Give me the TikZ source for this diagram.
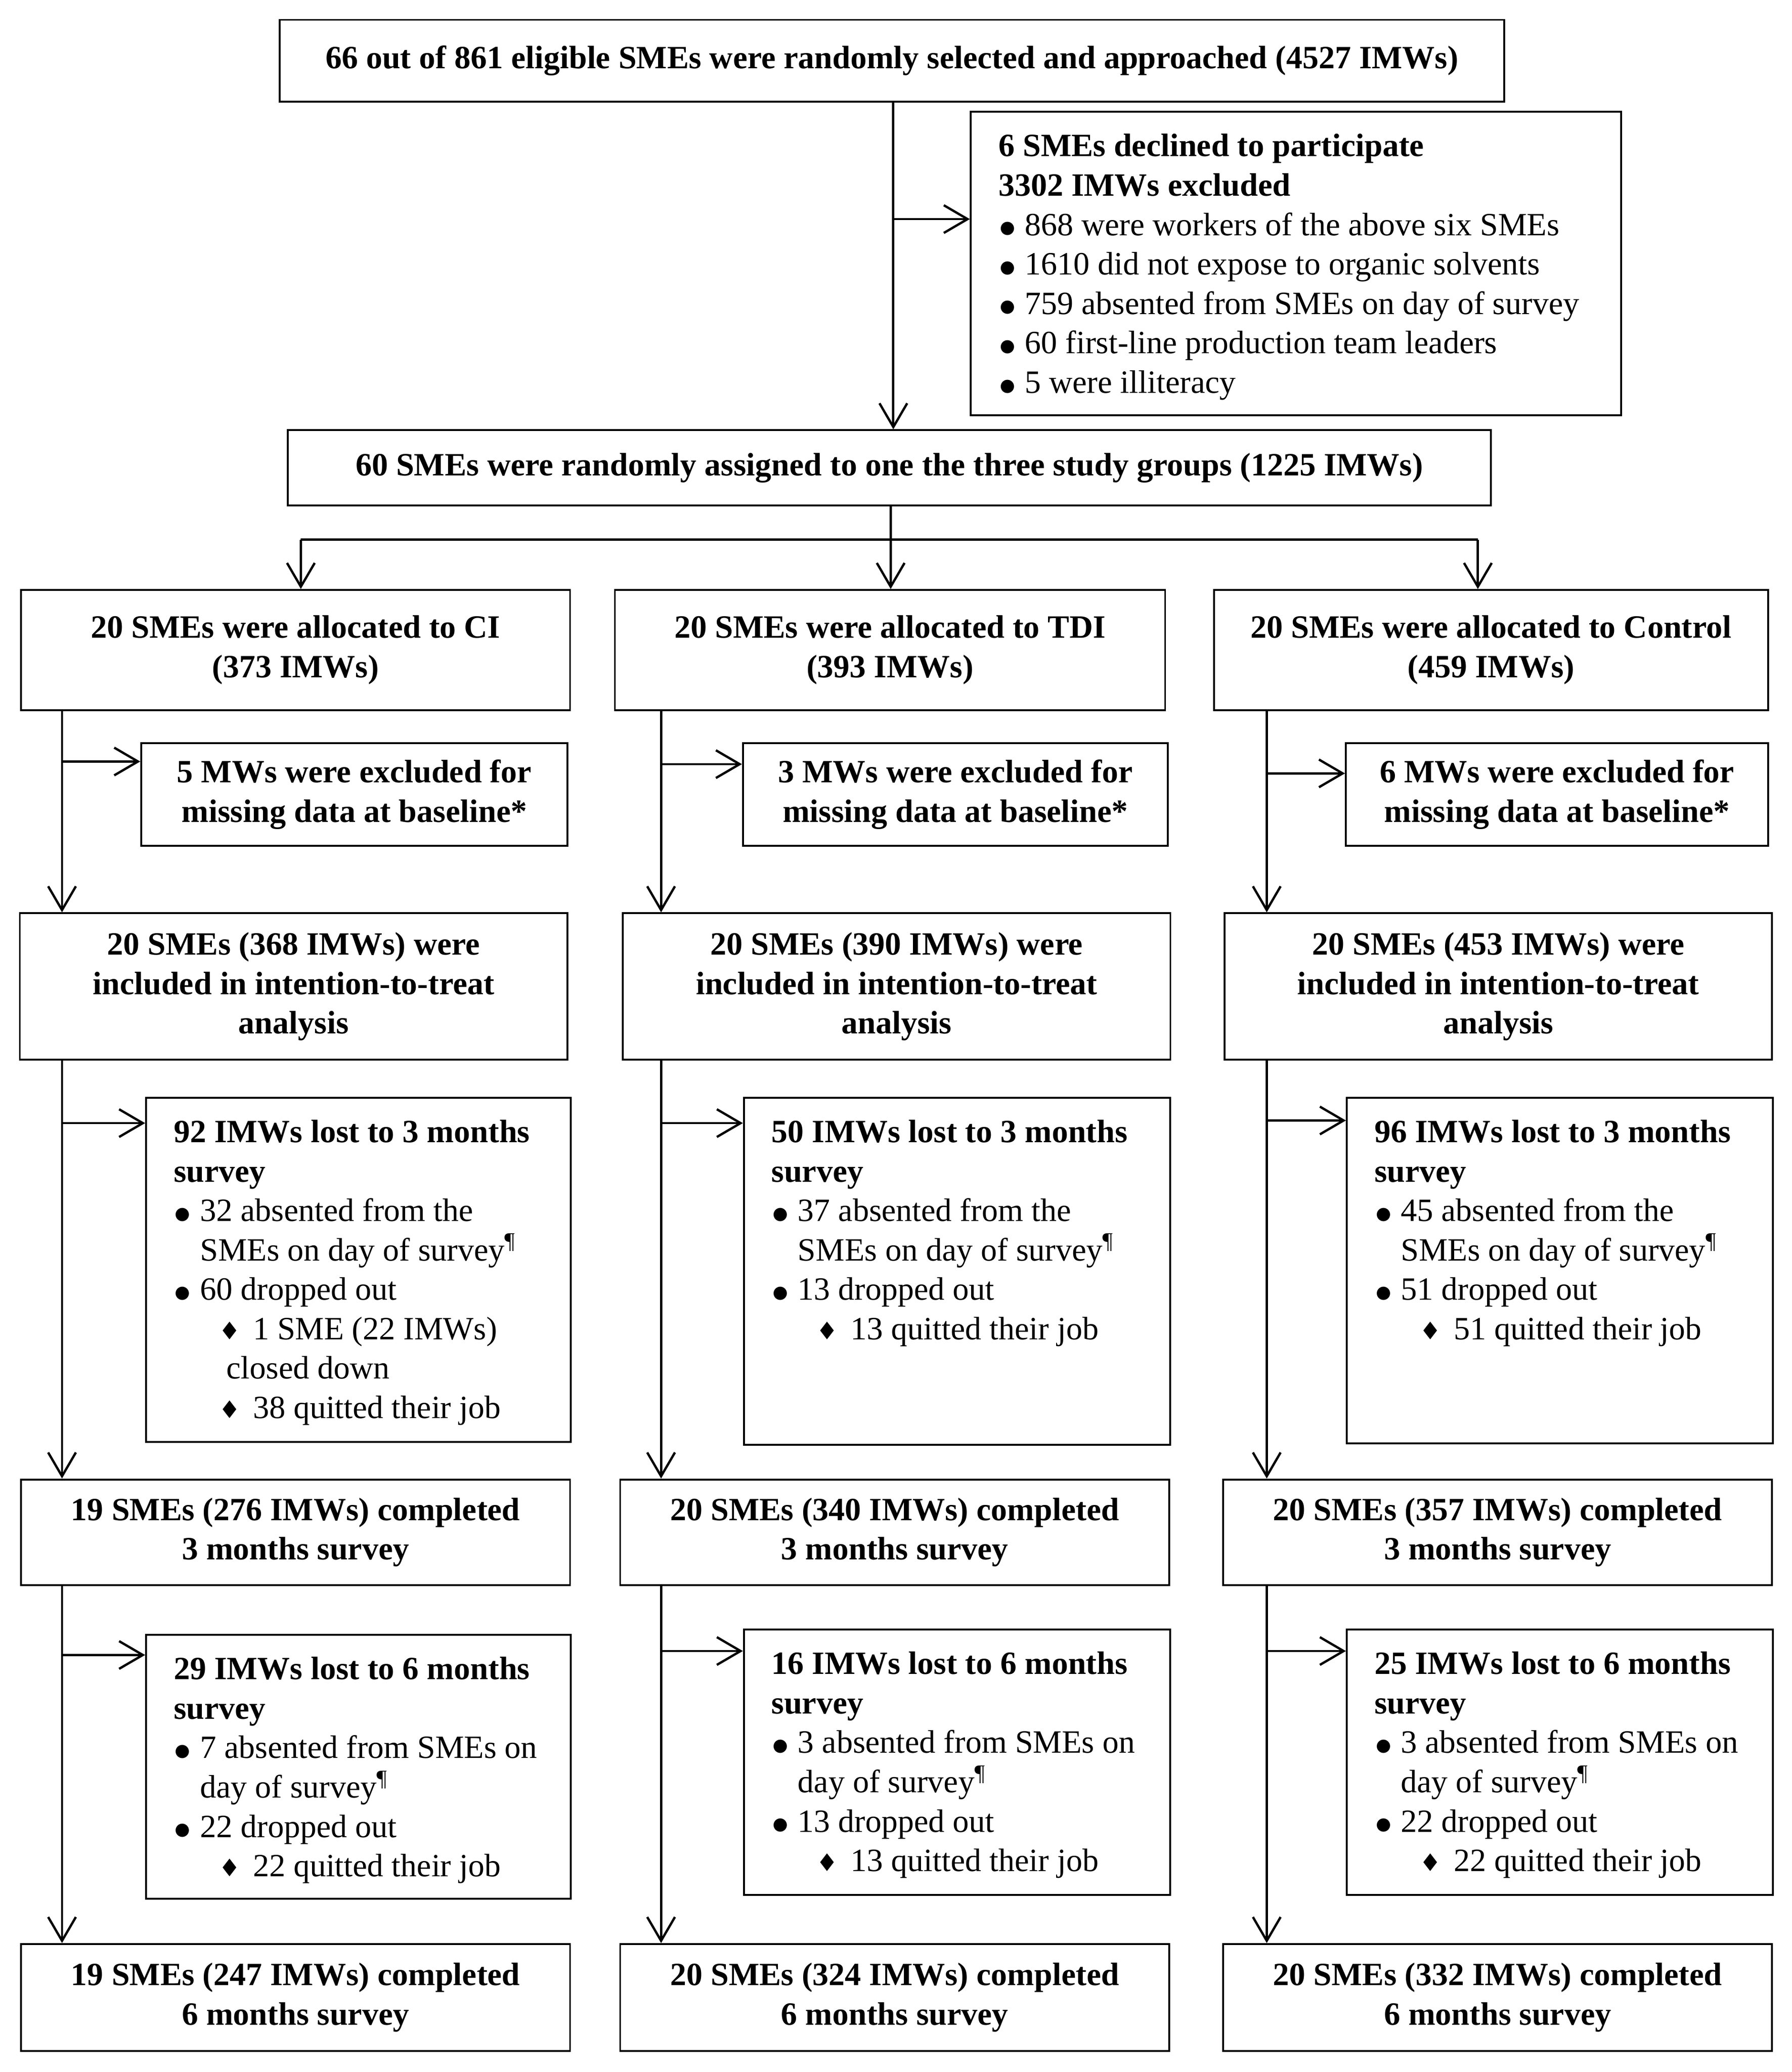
\documentclass[tikz,border=0pt]{standalone}
\usepackage{fontspec}
\setmainfont{Liberation Serif}
\newfontfamily\symfont{DejaVu Sans}
\usetikzlibrary{arrows.meta}
\newcommand{\bul}{\hspace*{0.02cm}\makebox[0.38cm][l]{\raisebox{0.9pt}{\symfont\fontsize{7.5}{7.5}\selectfont ●}}}
\newcommand{\dia}{\hspace*{0.68cm}\makebox[0.52cm][l]{{\symfont\fontsize{10.5}{10}\selectfont ♦}}}
\newcommand{\pil}{\textsuperscript{¶}}
\newcommand{\mycbox}[6]{\node[cb, minimum width={(#4-#2)*0.02cm}, minimum height={(#5-#3)*0.02cm}] (#1) at ({(#2+#4)/2},{(#3+#5)/2}) {#6};}
\newcommand{\mylbox}[6]{%
  \pgfmathsetlengthmacro\lbw{(#4-#2)*0.02cm}%
  \pgfmathsetlengthmacro\lbh{(#5-#3)*0.02cm}%
  \node[lb, anchor=north west] (#1) at (#2,#3) {\parbox[c][\lbh][t]{\lbw}{\vspace*{0.26cm}\raggedright\leftskip=0.42cm\rightskip=-2cm plus 1fil\relax #6}};}
\tikzset{
  box/.style={draw, line width=0.8pt, inner sep=0pt, fill=white},
  cb/.style={box, font=\fontsize{14}{17}\selectfont\bfseries, align=center},
  lb/.style={box, font=\fontsize{14}{17}\selectfont},
  arr/.style={line width=1pt, -{Straight Barb[length=0.36cm,width=0.42cm,line width=1pt]}},
  ln/.style={line width=1pt}
}
\begin{document}
\begin{tikzpicture}[x=0.02cm,y=-0.02cm]
\fill[white] (0,0) rectangle (1358,1570);
\useasboundingbox (0,0) rectangle (1358,1570);

% top part
\mycbox{top}{212}{15}{1140}{77}{\raisebox{0.06cm}{66 out of 861 eligible SMEs were randomly selected and approached (4527 IMWs)}}
\mylbox{excl}{735}{84}{1228}{314}{\strut\textbf{6 SMEs declined to participate}\\
\textbf{3302 IMWs excluded}\\
\bul 868 were workers of the above six SMEs\\
\bul 1610 did not expose to organic solvents\\
\bul 759 absented from SMEs on day of survey\\
\bul 60 first-line production team leaders\\
\bul 5 were illiteracy}
\mycbox{rand}{218}{326}{1130}{383}{60 SMEs were randomly assigned to one the three study groups (1225 IMWs)}

% group boxes
\mycbox{gci}{16}{447}{432}{538}{20 SMEs were allocated to CI\\(373 IMWs)}
\mycbox{gtdi}{466}{447}{883}{538}{20 SMEs were allocated to TDI\\(393 IMWs)}
\mycbox{gctl}{920}{447}{1340}{538}{20 SMEs were allocated to Control\\(459 IMWs)}

% excluded at baseline
\mycbox{exci}{107}{563}{430}{641}{5 MWs were excluded for\\missing data at baseline*}
\mycbox{extdi}{563}{563}{885}{641}{3 MWs were excluded for\\missing data at baseline*}
\mycbox{exctl}{1020}{563}{1340}{641}{6 MWs were excluded for\\missing data at baseline*}

% ITT
\mycbox{itci}{15}{692}{430}{803}{20 SMEs (368 IMWs) were\\included in intention-to-treat\\analysis}
\mycbox{ittdi}{472}{692}{887}{803}{20 SMEs (390 IMWs) were\\included in intention-to-treat\\analysis}
\mycbox{itctl}{928}{692}{1343}{803}{20 SMEs (453 IMWs) were\\included in intention-to-treat\\analysis}

% lost to 3 months
\mylbox{lci}{110}{831}{432}{1092}{\strut\textbf{92 IMWs lost to 3 months}\\
\textbf{survey}\\
\bul 32 absented from the\\
\hspace*{0.4cm}SMEs on day of survey\pil\\
\bul 60 dropped out\\
\dia 1 SME (22 IMWs)\\
\hspace*{0.8cm}closed down\\
\dia 38 quitted their job}
\mylbox{ltdi}{563}{831}{886}{1094}{\strut\textbf{50 IMWs lost to 3 months}\\
\textbf{survey}\\
\bul 37 absented from the\\
\hspace*{0.4cm}SMEs on day of survey\pil\\
\bul 13 dropped out\\
\dia 13 quitted their job}
\mylbox{lctl}{1020}{831}{1343}{1093}{\strut\textbf{96 IMWs lost to 3 months}\\
\textbf{survey}\\
\bul 45 absented from the\\
\hspace*{0.4cm}SMEs on day of survey\pil\\
\bul 51 dropped out\\
\dia 51 quitted their job}

% completed 3 months
\mycbox{tci}{16}{1121}{432}{1201}{19 SMEs (276 IMWs) completed\\3 months survey}
\mycbox{ttdi}{470}{1121}{886}{1201}{20 SMEs (340 IMWs) completed\\3 months survey}
\mycbox{tctl}{927}{1121}{1343}{1201}{20 SMEs (357 IMWs) completed\\3 months survey}

% lost to 6 months
\mylbox{sci}{110}{1238}{432}{1438}{\strut\textbf{29 IMWs lost to 6 months}\\
\textbf{survey}\\
\bul 7 absented from SMEs on\\
\hspace*{0.4cm}day of survey\pil\\
\bul 22 dropped out\\
\dia 22 quitted their job}
\mylbox{stdi}{563}{1234}{886}{1435}{\strut\textbf{16 IMWs lost to 6 months}\\
\textbf{survey}\\
\bul 3 absented from SMEs on\\
\hspace*{0.4cm}day of survey\pil\\
\bul 13 dropped out\\
\dia 13 quitted their job}
\mylbox{sctl}{1020}{1234}{1343}{1435}{\strut\textbf{25 IMWs lost to 6 months}\\
\textbf{survey}\\
\bul 3 absented from SMEs on\\
\hspace*{0.4cm}day of survey\pil\\
\bul 22 dropped out\\
\dia 22 quitted their job}

% completed 6 months
\mycbox{fci}{16}{1473}{432}{1554}{19 SMEs (247 IMWs) completed\\6 months survey}
\mycbox{ftdi}{470}{1473}{886}{1554}{20 SMEs (324 IMWs) completed\\6 months survey}
\mycbox{fctl}{927}{1473}{1343}{1554}{20 SMEs (332 IMWs) completed\\6 months survey}

% connectors: top
\coordinate (tx) at (677,0);
\coordinate (tb) at (677,166);
\draw[arr] (top.south -| tx) -- (rand.north -| tx);
\draw[arr] (tb) -- (excl.west |- tb);
\coordinate (sp) at (675,409);
\coordinate (spl) at (228,409);
\coordinate (spr) at (1120,409);
\draw[ln] (rand.south -| sp) -- (sp);
\draw[ln] (spl) -- (spr);
\draw[arr] (spl) -- (gci.north -| spl);
\draw[arr] (sp) -- (gtdi.north -| sp);
\draw[arr] (spr) -- (gctl.north -| spr);

% columns
\coordinate (c1) at (47,0);
\coordinate (c2) at (501,0);
\coordinate (c3) at (960,0);
% CI
\draw[arr] (gci.south -| c1) -- (itci.north -| c1);
\coordinate (b1a) at (47,577);
\draw[arr] (b1a) -- (exci.west |- b1a);
\draw[arr] (itci.south -| c1) -- (tci.north -| c1);
\coordinate (b1b) at (47,851);
\draw[arr] (b1b) -- (lci.west |- b1b);
\draw[arr] (tci.south -| c1) -- (fci.north -| c1);
\coordinate (b1c) at (47,1254);
\draw[arr] (b1c) -- (sci.west |- b1c);
% TDI
\draw[arr] (gtdi.south -| c2) -- (ittdi.north -| c2);
\coordinate (b2a) at (501,579);
\draw[arr] (b2a) -- (extdi.west |- b2a);
\draw[arr] (ittdi.south -| c2) -- (ttdi.north -| c2);
\coordinate (b2b) at (501,851);
\draw[arr] (b2b) -- (ltdi.west |- b2b);
\draw[arr] (ttdi.south -| c2) -- (ftdi.north -| c2);
\coordinate (b2c) at (501,1251);
\draw[arr] (b2c) -- (stdi.west |- b2c);
% Control
\draw[arr] (gctl.south -| c3) -- (itctl.north -| c3);
\coordinate (b3a) at (960,586);
\draw[arr] (b3a) -- (exctl.west |- b3a);
\draw[arr] (itctl.south -| c3) -- (tctl.north -| c3);
\coordinate (b3b) at (960,849);
\draw[arr] (b3b) -- (lctl.west |- b3b);
\draw[arr] (tctl.south -| c3) -- (fctl.north -| c3);
\coordinate (b3c) at (960,1251);
\draw[arr] (b3c) -- (sctl.west |- b3c);
\end{tikzpicture}
\end{document}
